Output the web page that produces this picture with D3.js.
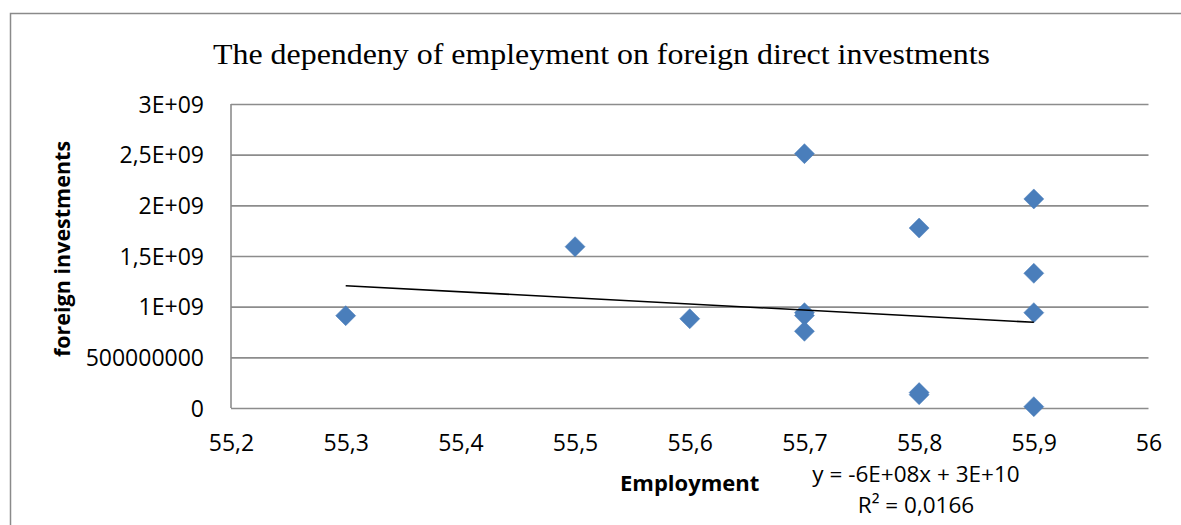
<!DOCTYPE html>
<html>
<head>
<meta charset="utf-8">
<script src="https://cdn.jsdelivr.net/npm/d3@7"></script>
<style>
  html, body { margin: 0; padding: 0; background: #fff; }
  svg { display: block; }
</style>
</head>
<body>
<svg id="chart" width="1181" height="525"></svg>
<script>
// ---- Data ----
const employment = [55.3, 55.5, 55.6, 55.7, 55.7, 55.7, 55.7, 55.8, 55.8, 55.8, 55.9, 55.9, 55.9, 55.9];
const foreignInvestments = [0.911e9, 1.592e9, 0.881e9, 2.51e9, 0.941e9, 0.912e9, 0.757e9, 1.776e9, 0.131e9, 0.152e9, 2.063e9, 1.329e9, 0.941e9, 0.013e9];

const xTickValues = [55.2, 55.3, 55.4, 55.5, 55.6, 55.7, 55.8, 55.9, 56];
const xTickLabels = ["55,2", "55,3", "55,4", "55,5", "55,6", "55,7", "55,8", "55,9", "56"];
const yTickValues = [0, 5e8, 1e9, 1.5e9, 2e9, 2.5e9, 3e9];
const yTickLabels = ["0", "500000000", "1E+09", "1,5E+09", "2E+09", "2,5E+09", "3E+09"];

// linear trendline endpoints (as drawn by the spreadsheet)
const trendX = [55.3, 55.9];
const trendY = [1.207e9, 0.846e9];

const titleText = "The dependeny of empleyment on foreign direct investments";
const xTitle = "Employment";
const yTitle = "foreign investments";
const equationLines = ["y = -6E+08x + 3E+10", "R² = 0,0166"];

// ---- Layout ----
const svg = d3.select("#chart");
const plot = { left: 231, right: 1148.5, top: 104, bottom: 408 };
const gridColor = "#8c8c8c";
const tickFont = "'Open Sans', 'Liberation Sans', sans-serif";
const tickSize = 23;

const x = d3.scaleLinear().domain([55.2, 56]).range([plot.left, plot.right]);
const y = d3.scaleLinear().domain([0, 3e9]).range([plot.bottom, plot.top]);

// outer chart-area border (left and top visible)
svg.append("path")
  .attr("d", "M10.5,525 V13.5 H1181")
  .attr("fill", "none")
  .attr("stroke", "#8a8a8a")
  .attr("stroke-width", 1.5);

// title
svg.append("text")
  .attr("x", 213)
  .attr("y", 64)
  .attr("font-family", "'Liberation Serif', 'Times New Roman', serif")
  .attr("font-size", 30)
  .attr("textLength", 777)
  .attr("lengthAdjust", "spacingAndGlyphs")
  .attr("fill", "#000")
  .text(titleText);

// horizontal gridlines via y axis
const yAxis = d3.axisLeft(y)
  .tickValues(yTickValues)
  .tickSize(-(plot.right - plot.left))
  .tickFormat((d, i) => yTickLabels[i]);

const gy = svg.append("g")
  .attr("transform", `translate(${plot.left},0)`)
  .call(yAxis);
gy.select(".domain").remove();
gy.selectAll(".tick line")
  .attr("stroke", gridColor)
  .attr("stroke-width", 1.6);
gy.selectAll(".tick text")
  .attr("x", -27)
  .attr("dy", "0.35em")
  .attr("font-family", tickFont)
  .attr("font-size", tickSize)
  .attr("fill", "#000");

// vertical axis line
svg.append("line")
  .attr("x1", plot.left).attr("x2", plot.left)
  .attr("y1", plot.top).attr("y2", plot.bottom)
  .attr("stroke", gridColor)
  .attr("stroke-width", 1.6);

// x axis labels
const xAxis = d3.axisBottom(x)
  .tickValues(xTickValues)
  .tickSize(0)
  .tickFormat((d, i) => xTickLabels[i]);
const gx = svg.append("g")
  .attr("transform", `translate(0,${plot.bottom})`)
  .call(xAxis);
gx.select(".domain").remove();
gx.selectAll(".tick text")
  .attr("y", 43)
  .attr("dy", 0)
  .attr("font-family", tickFont)
  .attr("font-size", tickSize)
  .attr("fill", "#000");

// axis titles
svg.append("text")
  .attr("x", 620)
  .attr("y", 491)
  .attr("font-family", tickFont)
  .attr("font-weight", "bold")
  .attr("font-size", 22)
  .attr("fill", "#000")
  .text(xTitle);

svg.append("text")
  .attr("transform", "translate(70,249) rotate(-90)")
  .attr("text-anchor", "middle")
  .attr("font-family", tickFont)
  .attr("font-weight", "bold")
  .attr("font-size", 21.5)
  .attr("fill", "#000")
  .text(yTitle);

// points
const pts = employment.map((e, i) => ({ e, v: foreignInvestments[i] }));
const diamond = d3.symbol().type(d3.symbolSquare).size(200);
svg.append("g").selectAll("path")
  .data(pts)
  .join("path")
  .attr("d", diamond)
  .attr("transform", d => `translate(${x(d.e)},${y(d.v)}) rotate(45)`)
  .attr("fill", "#4a7ebb")
  .attr("stroke", "#4a7ebb")
  .attr("stroke-width", 0.5);

// trendline
const trend = trendX.map((t, i) => [t, trendY[i]]);
svg.append("path")
  .datum(trend)
  .attr("d", d3.line().x(d => x(d[0])).y(d => y(d[1])))
  .attr("fill", "none")
  .attr("stroke", "#000")
  .attr("stroke-width", 1.6);

// equation label
svg.append("g").selectAll("text")
  .data(equationLines)
  .join("text")
  .attr("x", 916)
  .attr("y", (d, i) => 482 + i * 31)
  .attr("text-anchor", "middle")
  .attr("font-family", tickFont)
  .attr("font-size", 22.5)
  .attr("fill", "#000")
  .text(d => d);
</script>
</body>
</html>
